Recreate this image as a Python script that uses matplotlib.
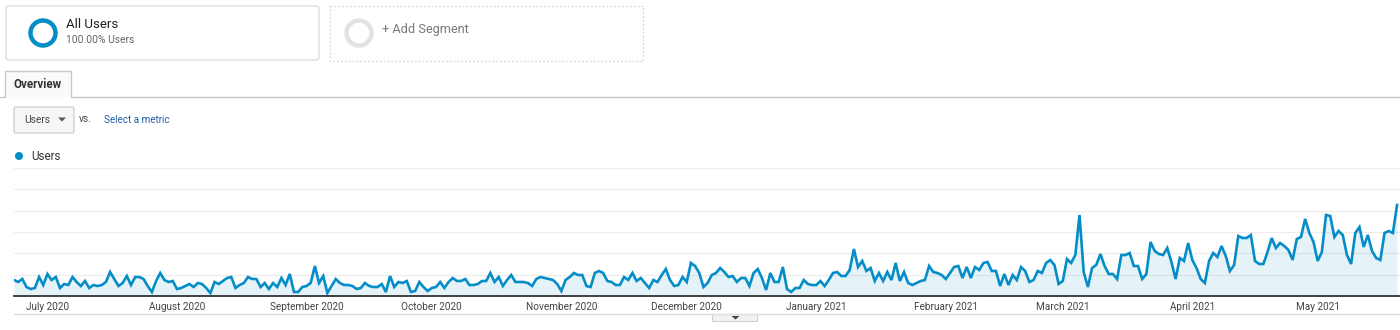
import matplotlib
matplotlib.use('Agg')
import matplotlib.pyplot as plt
import matplotlib.dates as mdates
from matplotlib.patches import Circle, Rectangle, FancyBboxPatch, Polygon
import numpy as np
import pandas as pd

plt.rcParams['font.family'] = ['Roboto', 'DejaVu Sans']

# daily users (first day = 2020-06-23)
start_date = '2020-06-23'
users_jun_aug = [16, 14, 17, 9, 7, 8, 19, 11, 22, 16, 19, 8, 12, 11, 19, 14, 10, 15, 8, 11,
                 10, 11, 14, 24, 17, 10, 13, 20, 11, 19, 19, 17, 10, 4, 15, 23, 16, 14, 15, 7,
                 8, 10, 12, 9, 13, 12, 8, 3, 14, 12, 15, 18, 19, 8, 11, 13]
users_aug_oct = [19, 17, 17, 9, 13, 7, 13, 9, 18, 11, 22, 4, 4, 9, 10, 13, 30, 13, 20, 3,
                 10, 17, 13, 11, 11, 10, 7, 8, 13, 10, 9, 9, 12, 4, 20, 9, 14, 13, 15, 4,
                 5, 14, 9, 5, 8, 9, 14, 8, 14, 18, 15, 15, 17, 11, 11]
users_oct_dec = [12, 15, 15, 23, 14, 19, 10, 16, 21, 14, 14, 14, 13, 10, 17, 19, 18, 17, 16, 12,
                 5, 16, 19, 23, 21, 21, 10, 9, 23, 25, 23, 15, 14, 11, 11, 19, 16, 23, 15, 18,
                 13, 8, 16, 14, 21, 27, 16, 10, 11, 19, 14, 33, 30, 23, 9]
users_dec_jan = [13, 21, 23, 28, 24, 19, 20, 14, 18, 18, 10, 23, 27, 18, 6, 23, 14, 14, 29, 7,
                 4, 8, 8, 16, 12, 11, 11, 15, 10, 16, 23, 24, 20, 20, 26, 47, 29, 35, 25, 28,
                 15, 23, 15, 24, 16, 33, 15, 24, 13, 11, 13, 15, 16, 30, 24]
users_feb_mar = [23, 21, 17, 23, 29, 30, 18, 29, 18, 29, 26, 33, 34, 25, 25, 10, 22, 11, 21, 16,
                 29, 25, 14, 16, 25, 23, 33, 36, 31, 12, 15, 37, 33, 41, 81, 24, 9, 28, 31, 42,
                 30, 22, 22, 17, 41, 41, 43, 30, 30, 17, 22, 54, 45, 42, 41]
users_mar_may = [48, 34, 17, 38, 35, 53, 36, 28, 17, 13, 35, 43, 39, 50, 40, 25, 31, 60, 58, 58,
                 61, 35, 32, 32, 44, 58, 48, 53, 50, 46, 36, 57, 59, 77, 63, 54, 35, 44, 81, 80,
                 59, 65, 61, 41, 32, 63, 69, 49, 61, 45, 38, 36, 63, 65, 63, 91]

users = users_jun_aug + users_aug_oct + users_oct_dec + users_dec_jan + users_feb_mar + users_mar_may
dates = pd.date_range(start_date, periods=len(users), freq='D')

ga_blue = '#058dc7'
W, H = 1400, 330

fig = plt.figure(figsize=(W / 100, H / 100), dpi=100)
fig.patch.set_facecolor('white')

# ---------------- UI overlay (pixel coordinates) ----------------
ui = fig.add_axes([0, 0, 1, 1], zorder=0)
ui.set_xlim(0, W)
ui.set_ylim(H, 0)
ui.axis('off')

# segment "All Users"
ui.add_patch(FancyBboxPatch((6, 6), 313, 54, boxstyle='round,pad=0,rounding_size=3',
                            ec='#d6d6d6', fc='white', lw=0.8))
ui.add_patch(Circle((43, 33), 12.5, fill=False, ec=ga_blue, lw=3.2))
ui.text(66, 25, 'All Users', fontsize=9.5, color='#222222', va='center', ha='left')
ui.text(66, 40, '100.00% Users', fontsize=7.4, color='#666666', va='center', ha='left')

# segment "+ Add Segment"
ui.add_patch(Rectangle((330, 6), 313, 55, fill=False, ec='#d0d0d0', lw=0.8, ls=(0, (1.5, 2))))
ui.add_patch(Circle((359, 33), 12.5, fill=False, ec='#e2e2e2', lw=3.2))
ui.text(382, 30, '+ Add Segment', fontsize=9.2, color='#777777', va='center', ha='left')

# tab
ui.plot([0, 5, 5, 71, 71, W], [96.5, 96.5, 71, 71, 96.5, 96.5], color='#c8c8c8', lw=1.0)
ui.add_patch(Rectangle((5.5, 71.5), 65, 25, fc='#fafafa', ec='none'))
ui.text(13, 84, 'Overview', fontsize=8.4, fontweight='bold', color='#333333', va='center', ha='left')

# metric dropdown
ui.add_patch(FancyBboxPatch((14, 107), 60, 26, boxstyle='round,pad=0,rounding_size=2',
                            ec='#c6c6c6', fc='#f6f6f6', lw=0.8))
ui.text(24, 120, 'Users', fontsize=7.3, color='#444444', va='center', ha='left')
ui.add_patch(Polygon([[58, 117.5], [66, 117.5], [62, 121.5]], closed=True, fc='#555555', ec='none'))
ui.text(79, 118.5, 'vs.', fontsize=7.3, color='#444444', va='center', ha='left')
ui.text(104, 120, 'Select a metric', fontsize=7.1, color='#1f5fa8', va='center', ha='left')

# legend
ui.add_patch(Circle((19, 156), 4, fc=ga_blue, ec='none'))
ui.text(31, 157, 'Users', fontsize=8.4, color='#333333', va='center', ha='left')

# bottom strip + collapse handle
ui.plot([14, W], [314, 314], color='#dddddd', lw=1.0)
ui.add_patch(Rectangle((712, 314), 45, 7, fc='#f1f1f1', ec='#cccccc', lw=0.7))
ui.add_patch(Polygon([[731.5, 316], [739.5, 316], [735.5, 319.5]], closed=True, fc='#444444', ec='none'))

# ---------------- line chart ----------------
ax = fig.add_axes([14 / W, (H - 296) / H, (W - 14) / W, 128 / H], zorder=1)
ax.set_facecolor('none')

x = mdates.date2num(dates)
ax.fill_between(x, users, 0, color=ga_blue, alpha=0.1, lw=0)
ax.plot(x, users, color=ga_blue, lw=1.9, solid_joinstyle='miter')

ax.set_xlim(x[0], x[0] + 331.7)
ax.set_ylim(0, 128)
ax.set_yticks(np.linspace(0, 128, 7))
ax.yaxis.grid(True, color='#ececec', lw=0.8)
ax.set_axisbelow(True)
ax.tick_params(axis='y', left=False, labelleft=False)

ax.xaxis.set_major_locator(mdates.MonthLocator())
ax.xaxis.set_major_formatter(mdates.DateFormatter('%B %Y'))
ax.tick_params(axis='x', length=0, pad=4, labelsize=7.2, labelcolor='#444444')

for s in ['top', 'right', 'left']:
    ax.spines[s].set_visible(False)
ax.spines['bottom'].set_color('#333333')
ax.spines['bottom'].set_linewidth(1.3)

fig.savefig('out.png', dpi=100, facecolor='white')
